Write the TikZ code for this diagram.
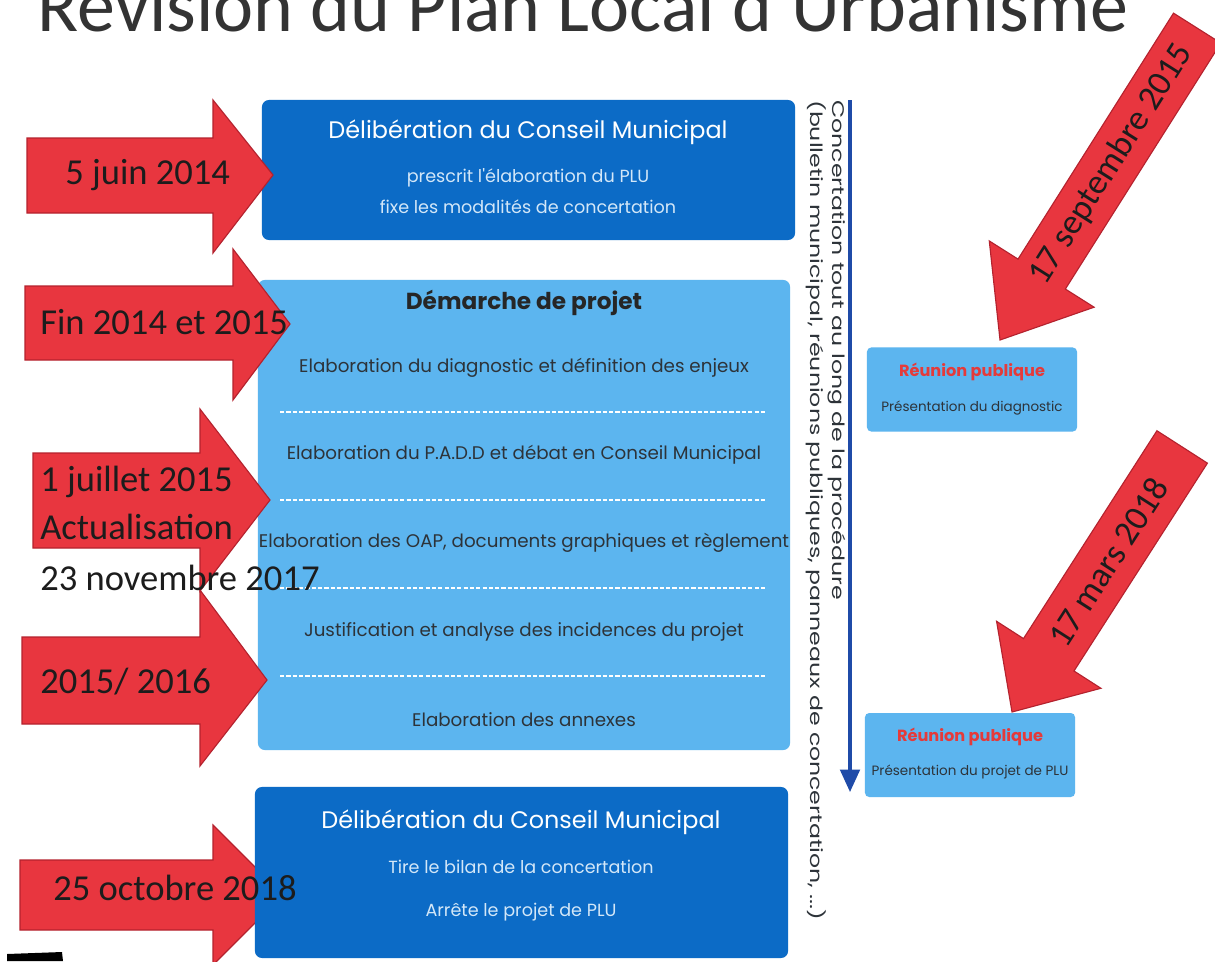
\documentclass[tikz,border=0pt]{standalone}
\usepackage{fontspec}
\setmainfont{Carlito}
\newfontfamily\boxfont{Poppins}
\newfontfamily\widefont{Poppins}[FakeStretch=1.4]
\usepackage{xcolor}
\usetikzlibrary{arrows.meta}

\definecolor{deepblue}{HTML}{0C6BC6}
\definecolor{skyblue}{HTML}{5CB5EF}
\definecolor{paleblue}{HTML}{D3E7F8}
\definecolor{datered}{HTML}{E8363F}
\definecolor{dateredline}{HTML}{B4222E}
\definecolor{dateink}{HTML}{1C1C1C}
\definecolor{inkgray}{HTML}{2D3339}
\definecolor{titlegray}{HTML}{333333}
\definecolor{reunionred}{HTML}{E53A3A}
\definecolor{flowblue}{HTML}{1F4BA8}

\begin{document}
\begin{tikzpicture}[x=0.025cm,y=-0.025cm,
  deepbox/.style={fill=deepblue, rounded corners=5pt, inner sep=0pt},
  skybox/.style={fill=skyblue, rounded corners=5pt, inner sep=0pt},
  datearrow/.style={fill=datered, draw=dateredline, line width=0.8pt, line join=miter},
  datetext/.style={text=dateink, inner sep=0pt, font=\fontsize{26}{28}\selectfont},
  slanttext/.style={text=dateink, inner sep=0pt, font=\fontsize{25}{27}\selectfont},
  deephead/.style={text=white, inner sep=0pt, font=\boxfont\fontsize{17}{19}\selectfont},
  deepsub/.style={text=paleblue, inner sep=0pt, font=\boxfont\fontsize{12.5}{14}\selectfont},
  skyhead/.style={text=black!85, inner sep=0pt, font=\boxfont\bfseries\fontsize{16.5}{18}\selectfont},
  skyitem/.style={text=inkgray, inner sep=0pt, font=\boxfont\fontsize{13}{15}\selectfont},
  reunionhead/.style={text=reunionred, inner sep=0pt, font=\boxfont\bfseries\fontsize{11.5}{13}\selectfont},
  reunionsub/.style={text=inkgray, inner sep=0pt, font=\boxfont\fontsize{9.6}{11}\selectfont},
  splitline/.style={white, line width=1pt, dash pattern=on 3pt off 1.5pt}]

\useasboundingbox (0,0) rectangle (1215,961);
\clip (0,0) rectangle (1215,961);
\fill[white] (0,0) rectangle (1215,961);

\node[text=titlegray, anchor=base, font=\fontsize{54}{60}\selectfont] (titre) at (583,31) {Révision du Plan Local d'Urbanisme};

% arrow under the last box
\draw[datearrow] (20,860)--(213,860)--(213,825)--(283,895)--(213,965)--(213,930)--(20,930)--cycle;

% main column
\node[deepbox, minimum width=13.325cm, minimum height=3.5cm] (delib1) at (528.5,170) {};
\node[deephead] (delib1t) at (528,132) {Délibération du Conseil Municipal};
\node[deepsub] (delib1a) at (528,178) {prescrit l'élaboration du PLU};
\node[deepsub] (delib1b) at (528,207) {fixe les modalités de concertation};

\node[skybox, minimum width=13.3cm, minimum height=11.75cm] (demarche) at (524,515) {};
\node[skyhead] (demarchet) at (524,303) {Démarche de projet};
\node[skyitem] (etape1) at (524,368) {Elaboration du diagnostic et définition des enjeux};
\node[skyitem] (etape2) at (524,455) {Elaboration du P.A.D.D et débat en Conseil Municipal};
\node[skyitem] (etape3) at (524,543) {Elaboration des OAP, documents graphiques et règlement};
\node[skyitem] (etape4) at (524,632) {Justification et analyse des incidences du projet};
\node[skyitem] (etape5) at (524,720) {Elaboration des annexes};
\draw[splitline] (280,412)--(765,412);
\draw[splitline] (280,500)--(765,500);
\draw[splitline] (280,588)--(765,588);
\draw[splitline] (280,676)--(765,676);

\node[deepbox, minimum width=13.325cm, minimum height=4.275cm] (delib2) at (521.5,872.5) {};
\node[deephead] (delib2t) at (521,822) {Délibération du Conseil Municipal};
\node[deepsub] (delib2a) at (521,867) {Tire le bilan de la concertation};
\node[deepsub] (delib2b) at (521,912) {Arrête le projet de PLU};

% concertation
\coordinate (concerttop) at (850,100);
\coordinate (concertbot) at (850,792);
\draw[flowblue, line width=2.2pt, -{Triangle[length=16pt,width=14pt]}] (concerttop)--(concertbot);
\node[rotate=-90, anchor=north west, align=left, text=inkgray, inner sep=0pt,
  font=\widefont\fontsize{12}{12}\selectfont] (concerttxt) at (846,100)
  {Concertation tout au long de la procédure\\(bulletin municipal, réunions publiques, panneaux de concertation, ...)};

% public meetings
\node[skybox, rounded corners=3pt, minimum width=5.25cm, minimum height=2.1cm] (reunion1) at (972,389.5) {};
\node[reunionhead] (reunion1t) at (972,372) {Réunion publique};
\node[reunionsub] (reunion1a) at (972,408) {Présentation du diagnostic};
\node[skybox, rounded corners=3pt, minimum width=5.25cm, minimum height=2.1cm] (reunion2) at (970,755) {};
\node[reunionhead] (reunion2t) at (970,737) {Réunion publique};
\node[reunionsub] (reunion2a) at (970,772) {Présentation du projet de PLU};

% dates
\draw[datearrow] (27,138)--(213,138)--(213,100)--(273,175)--(213,253)--(213,213)--(27,213)--cycle;
\draw[datearrow] (25,286)--(233,286)--(233,249)--(290,324)--(233,400)--(233,360)--(25,360)--cycle;
\draw[datearrow] (33,453)--(200,453)--(200,409)--(270,500)--(200,591)--(200,548)--(33,548)--cycle;
\draw[datearrow] (22,637)--(200,637)--(200,590)--(267,680)--(200,766)--(200,724)--(22,724)--cycle;

\node[datetext, anchor=west] (date1) at (65,175) {5 juin 2014};
\node[datetext, anchor=west] (date2) at (40,322) {Fin 2014 et 2015};
\node[datetext, anchor=west] (date3) at (40,482) {1 juillet 2015};
\node[datetext, anchor=west] (date3b) at (40,527) {Actualisation};
\node[datetext, anchor=west] (date3c) at (40,578) {23 novembre 2017};
\node[datetext, anchor=west] (date4) at (40,682) {2015/ 2016};
\node[datetext, anchor=west] (date5) at (53,888) {25 octobre 2018};

\begin{scope}[shift={(1000,340)}, rotate=57.7]
\draw[datearrow] (0,0)--(78,-62)--(78,-28)--(369,-28)--(369,28)--(78,28)--(78,62)--cycle;
\node[slanttext, rotate=57.7] (sept) at (208,0) {17 septembre 2015};
\end{scope}
\begin{scope}[shift={(1012,712)}, rotate=57.3]
\draw[datearrow] (0,0)--(68,-62)--(68,-30)--(315,-30)--(315,30)--(68,30)--(68,62)--cycle;
\node[slanttext, rotate=57.3] (mars) at (178,0) {17 mars 2018};
\end{scope}

\fill[black] (7,954)--(62,952)--(63,961)--(7,961)--cycle;
\end{tikzpicture}
\end{document}
